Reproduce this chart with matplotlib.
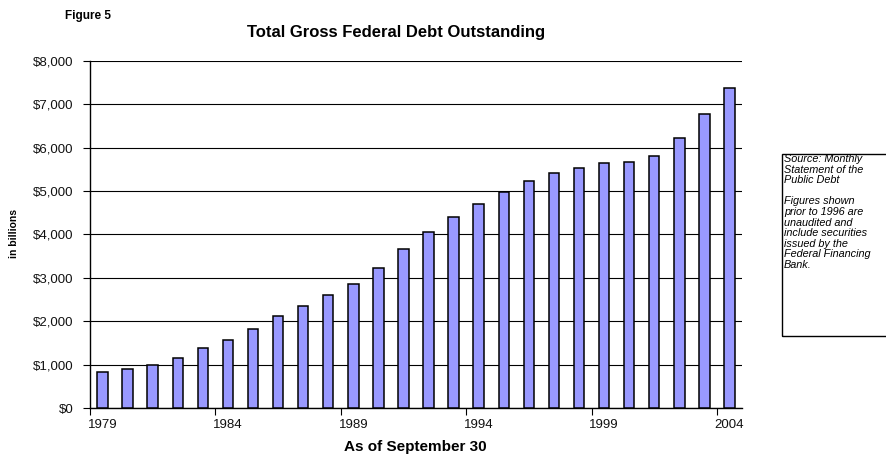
import matplotlib
matplotlib.use("Agg")
import matplotlib.pyplot as plt
from matplotlib.patches import Rectangle
import numpy as np

plt.rcParams['font.family'] = ['Liberation Sans', 'DejaVu Sans']

years = list(range(1979, 2005))
debt = [826.5, 907.7, 997.9, 1142.0, 1377.2, 1572.3, 1823.1, 2125.3, 2350.3,
        2602.3, 2857.4, 3233.3, 3665.3, 4064.6, 4411.5, 4692.8, 4974.0,
        5224.8, 5413.1, 5526.2, 5656.3, 5674.2, 5807.5, 6228.2, 6783.2, 7379.1]
label_years = [1979, 1984, 1989, 1994, 1999, 2004]
y_ticks = [0, 1000, 2000, 3000, 4000, 5000, 6000, 7000, 8000]
title = "Total Gross Federal Debt Outstanding"
note_lines = ["Source: Monthly", "Statement of the", "Public Debt", "",
              "Figures shown", "prior to 1996 are", "unaudited and",
              "include securities", "issued by the", "Federal Financing", "Bank."]

W, H = 887, 458
fig = plt.figure(figsize=(W / 100, H / 100), dpi=100)
ax = fig.add_axes([90 / W, 1 - 408 / H, 652 / W, (408 - 61) / H])

x = np.arange(len(years))
ax.bar(x, debt, width=0.42, color='#9999FF', edgecolor='black', linewidth=1.1, zorder=3)

ax.set_xlim(-0.5, len(years) - 0.5)
ax.set_ylim(0, 8000)
ax.set_yticks(y_ticks)
ax.set_yticklabels([f"${v:,.0f}" for v in y_ticks], fontsize=9.5, color='#111111')
for v in y_ticks:
    ax.axhline(v, color='black', linewidth=0.8, zorder=1)

# labels at category centers, tick marks at category boundaries
ax.set_xticks([years.index(y) for y in label_years])
ax.set_xticklabels([str(y) for y in label_years], fontsize=9.5, color='#111111')
ax.tick_params(axis='x', which='major', length=0, pad=8)
ax.set_xticks([years.index(y) - 0.5 for y in label_years], minor=True)
ax.tick_params(axis='x', which='minor', length=5, width=0.8, direction='out')
ax.tick_params(axis='y', length=5, width=0.8, direction='out', pad=7)

for s in ['top', 'right']:
    ax.spines[s].set_visible(False)
for s in ['left', 'bottom']:
    ax.spines[s].set_linewidth(1.0)
    ax.spines[s].set_color('black')

fig.text(14 / W, 1 - 234 / H, "in billions", rotation=90, fontsize=7.5,
         fontweight='bold', ha='center', va='center')
fig.text(415 / W, 1 - 447 / H, "As of September 30", fontsize=11,
         fontweight='bold', ha='center', va='center')
fig.text(396 / W, 1 - 32 / H, title, fontsize=12, fontweight='bold',
         ha='center', va='center')
fig.text(65 / W, 1 - 16 / H, "Figure 5", fontsize=8.5, fontweight='bold',
         ha='left', va='center')

box = Rectangle((782 / W, 1 - 336 / H), 130 / W, (336 - 154) / H,
                transform=fig.transFigure, fill=False, edgecolor='black',
                linewidth=1.0)
fig.add_artist(box)
for i, line in enumerate(note_lines):
    if line:
        fig.text(784 / W, 1 - (159 + i * 10.6) / H, line, fontsize=7.8,
                 style='italic', ha='left', va='center')

fig.savefig("out.png", dpi=100)
